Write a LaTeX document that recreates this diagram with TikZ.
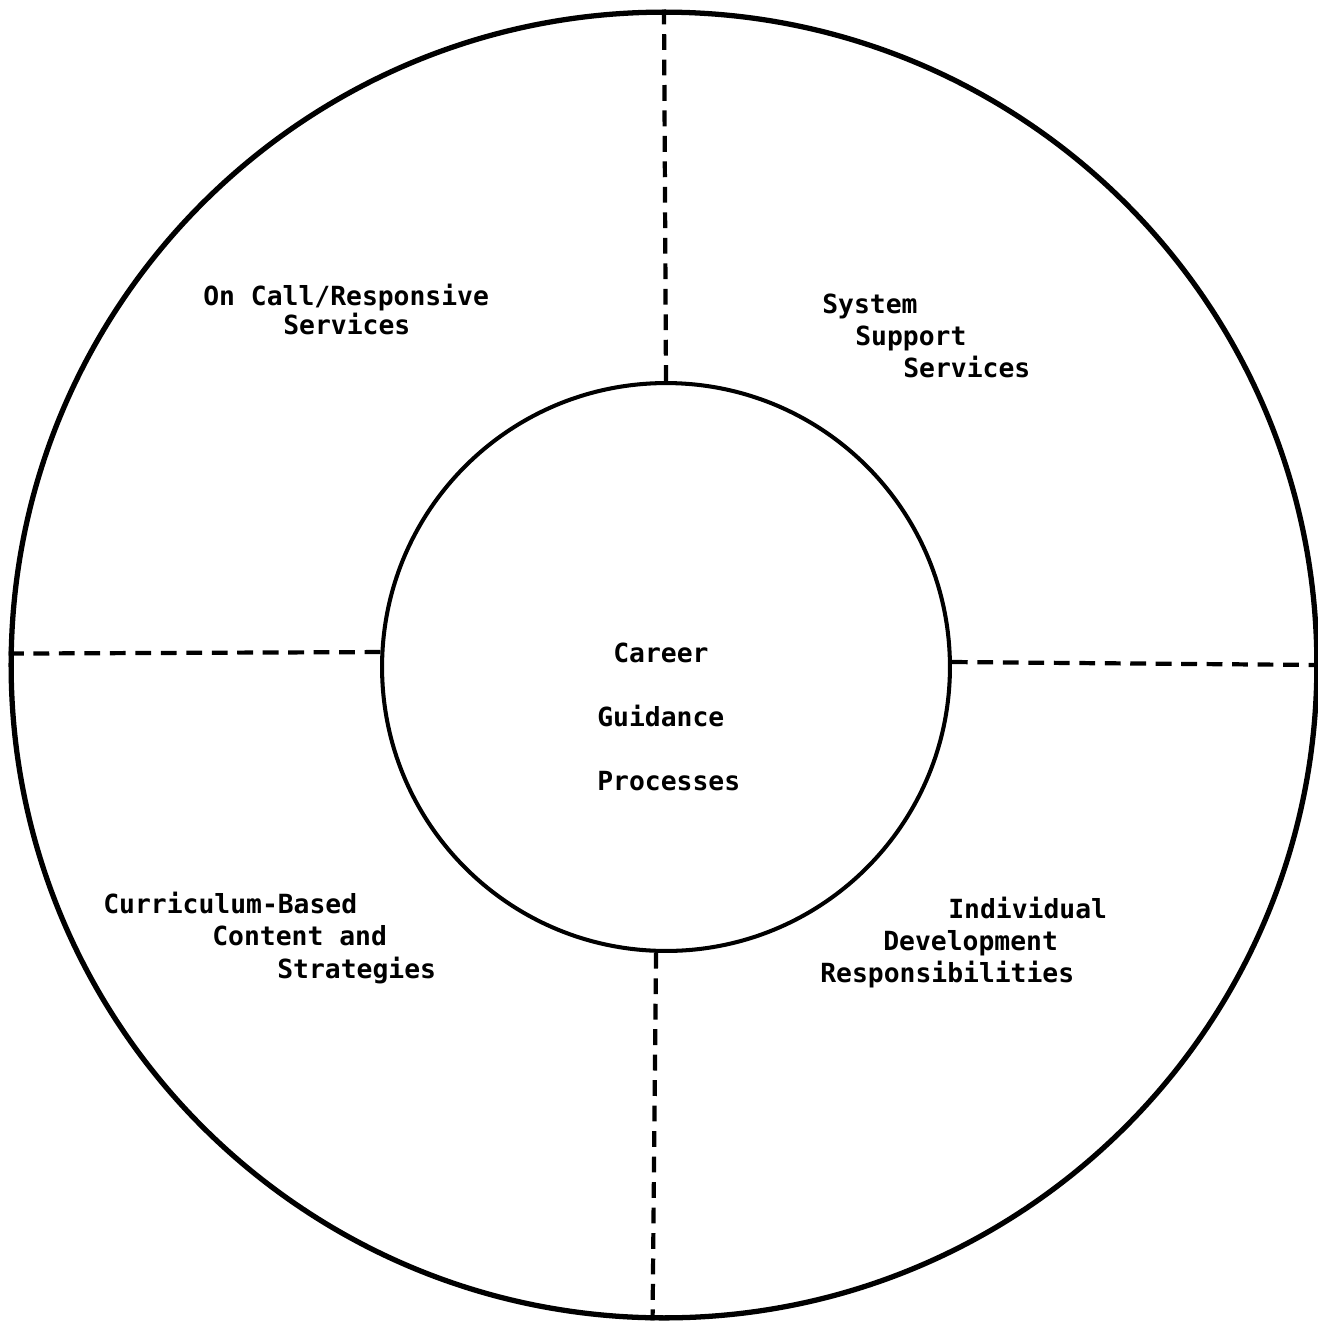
\documentclass[tikz,border=0pt]{standalone}
\usepackage{fontspec}
\setmonofont{DejaVu Sans Mono}
\usetikzlibrary{positioning, calc}

\tikzset{
  ring/.style={draw, circle, inner sep=0pt},
  divider/.style={line width=2.4pt, dash pattern=on 9pt off 5.5pt},
  txt/.style={font=\ttfamily\bfseries\fontsize{15}{18}\selectfont, anchor=base west, inner sep=0pt}
}

\begin{document}
\begin{tikzpicture}[x=0.02cm, y=-0.02cm]

        % Page frame
        \useasboundingbox (0,0) rectangle (1318,1323);

        % Outer ring and inner circle
        \node[ring, line width=3pt, minimum size=26.12cm] (outer) at (664,665) {};
        \node[ring, line width=2.3pt, minimum size=11.36cm] (inner) at (666,667) {};

        % Dashed dividers between the four sectors
        \draw[divider] (inner.90) -- (outer.90);
        \draw[divider] (inner.177) -- (outer.179);
        \draw[divider] (inner.1) -- (outer.0);
        \draw[divider] (inner.268) -- (outer.269);

        % Centre
        \node[txt] (career) at (613,662) {Career};
        \node[txt] (guidance) at (597,726) {Guidance};
        \node[txt] (processes) at (597,790) {Processes};

        % Upper left sector
        \node[txt] (oncall) at (203,305) {On Call/Responsive};
        \node[txt] (oncallb) at (283,334) {Services};

        % Upper right sector
        \node[txt] (system) at (822,313) {System};
        \node[txt] (support) at (855,345) {Support};
        \node[txt] (services) at (903,377) {Services};

        % Lower left sector
        \node[txt] (curric) at (103,913) {Curriculum-Based};
        \node[txt] (content) at (212,945) {Content and};
        \node[txt] (strat) at (277,978) {Strategies};

        % Lower right sector
        \node[txt] (indiv) at (948,918) {Individual};
        \node[txt] (develop) at (883,950) {Development};
        \node[txt] (respons) at (820,982) {Responsibilities};

    \end{tikzpicture}
\end{document}
